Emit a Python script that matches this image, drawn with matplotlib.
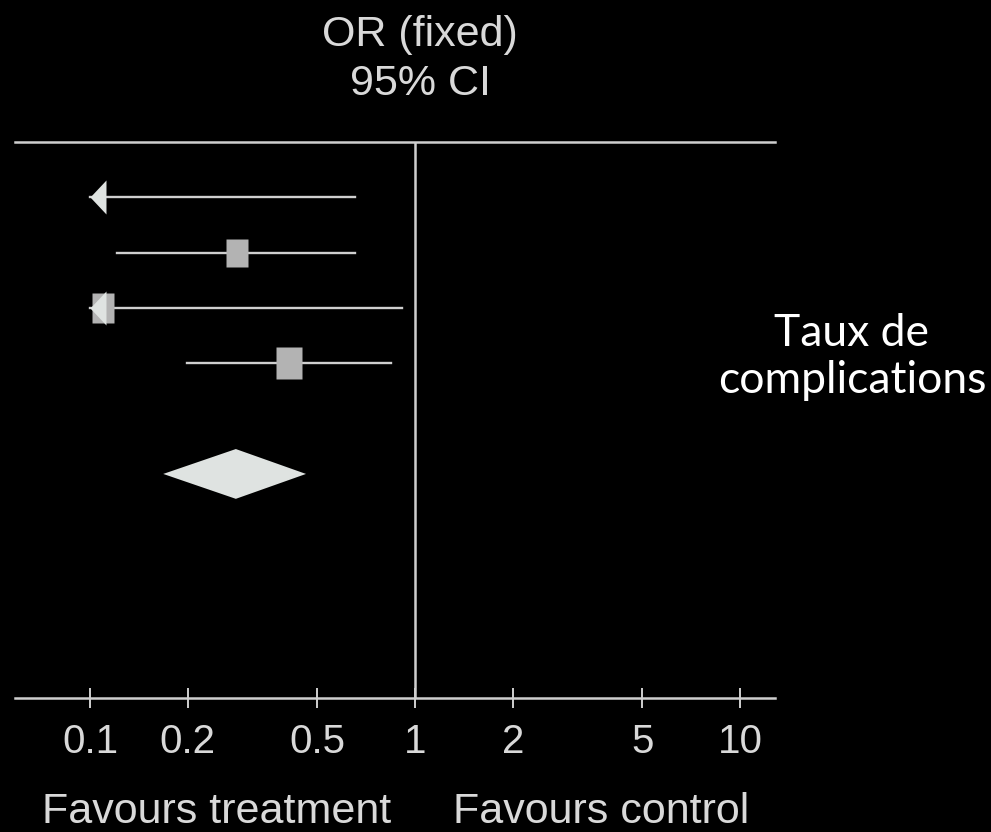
import numpy as np
import matplotlib
matplotlib.use("Agg")
import matplotlib.pyplot as plt
from matplotlib.path import Path

# study rows (top to bottom); None = point estimate off the plotted range
rows = [1, 2, 3, 4]
odds_ratio = [None, 0.283, 0.11, 0.409]
ci_low = [0.05, 0.121, 0.05, 0.199]
ci_high = [0.653, 0.653, 0.912, 0.843]
weights = [10.0, 30.0, 31.0, 39.0]

# pooled estimate
pooled_row = 6
pooled_or = 0.281
pooled_low = 0.168
pooled_high = 0.462

tick_values = [0.1, 0.2, 0.5, 1, 2, 5, 10]
tick_labels = ["0.1", "0.2", "0.5", "1", "2", "5", "10"]
clip_low = 0.1

BG = "black"
LINE = "#cfcfcf"
SQUARE = "#b3b3b3"
PALE = "#dfe3e1"
TEXT = "#d9d9d9"

# tall box and left arrow markers (the source image is a bit stretched)
box = Path([(-0.78, -1), (0.78, -1), (0.78, 1), (-0.78, 1), (-0.78, -1)],
           [Path.MOVETO, Path.LINETO, Path.LINETO, Path.LINETO, Path.CLOSEPOLY])
arrow = Path([(0, 0), (0.94, 1), (0.94, -1), (0, 0)],
             [Path.MOVETO, Path.LINETO, Path.LINETO, Path.CLOSEPOLY])

fig = plt.figure(figsize=(9.91, 8.32), dpi=100, facecolor=BG)
ax = fig.add_axes([15 / 991, 1 - 698 / 832, 760 / 991, 556 / 832])
ax.set_facecolor(BG)
ax.set_xscale("log")
ax.set_xlim(10 ** (-1 - 75 / 325), 10 ** (1 + 35 / 325))
ax.set_ylim(10.05, 0)

ax.axvline(1, color=LINE, lw=1.8, zorder=1)

for r, m, lo, hi, w in zip(rows, odds_ratio, ci_low, ci_high, weights):
    left = max(lo, clip_low)
    ax.plot([left, hi], [r, r], color=LINE, lw=1.7, zorder=2)
    if m is not None and m >= clip_low:
        ax.plot(m, r, marker=box, ms=3.8 * np.sqrt(w), color=SQUARE,
                mec="none", zorder=3)
    if lo < clip_low:
        ax.plot(clip_low, r, marker=arrow, ms=24.5, color=PALE,
                mec="none", zorder=4)

h = 0.45
ax.fill([pooled_low, pooled_or, pooled_high, pooled_or],
        [pooled_row, pooled_row - h, pooled_row, pooled_row + h],
        color=PALE, lw=0, zorder=3)

for side in ["left", "right"]:
    ax.spines[side].set_visible(False)
for side in ["top", "bottom"]:
    ax.spines[side].set_color(LINE)
    ax.spines[side].set_linewidth(1.8)

ax.set_yticks([])
ax.set_xticks(tick_values)
ax.set_xticklabels(tick_labels)
ax.xaxis.set_minor_locator(plt.NullLocator())
ax.tick_params(axis="x", direction="inout", length=14, width=1.4,
               color=LINE, labelcolor=TEXT, labelsize=29, pad=11)
for lab in ax.get_xticklabels():
    lab.set_fontfamily("Liberation Sans")

fig.text(420 / 991, 1 - 35 / 832, "OR (fixed)", color=TEXT, fontsize=31,
         family="Liberation Sans", ha="center", va="center")
fig.text(420 / 991, 1 - 84 / 832, "95% CI", color=TEXT, fontsize=31,
         family="Liberation Sans", ha="center", va="center")
fig.text(217 / 991, 1 - 812 / 832, "Favours treatment", color=TEXT,
         fontsize=31, family="Liberation Sans", ha="center", va="center")
fig.text(601 / 991, 1 - 812 / 832, "Favours control", color=TEXT,
         fontsize=31, family="Liberation Sans", ha="center", va="center")

fig.text(852 / 991, 1 - 357 / 832, "Taux de\ncomplications", color="white",
         fontsize=32, family="Lato", ha="center", va="center",
         linespacing=1.2)

fig.savefig("out.png", dpi=100, facecolor=BG)
